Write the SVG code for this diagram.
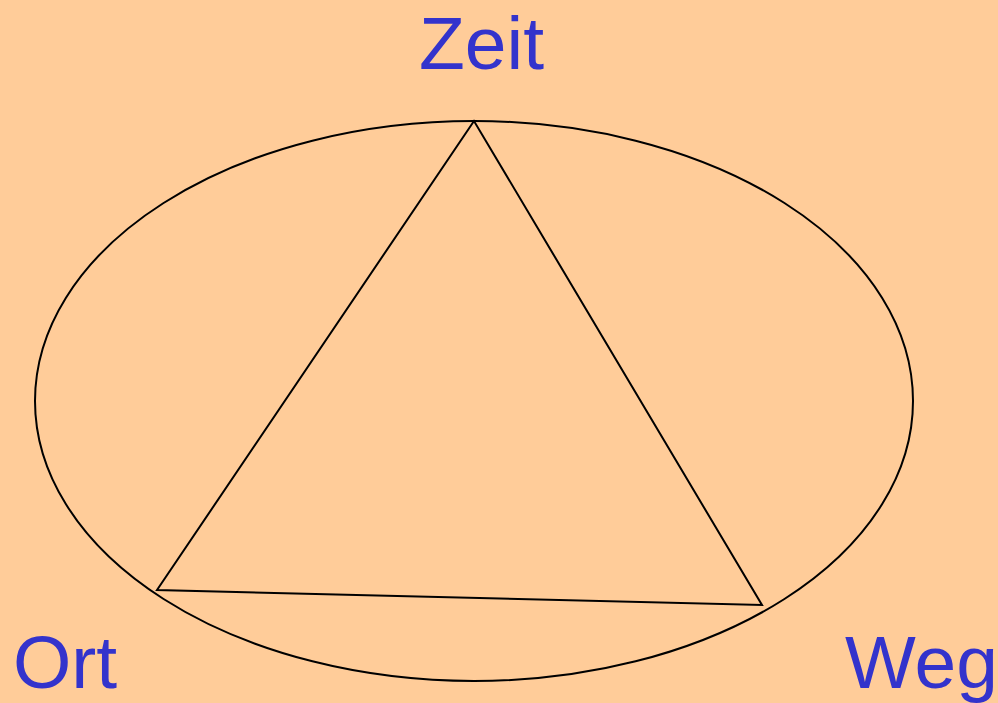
<svg xmlns="http://www.w3.org/2000/svg" width="998" height="703" viewBox="0 0 998 703">
<style>
.lbl{font-family:"Liberation Sans",Arial,sans-serif;font-size:75px;fill:#3333CC}
.ln{fill:none;stroke:#000;stroke-width:2}
</style>
<rect width="998" height="703" fill="#FFCC99"/>
<g id="connectors">
<ellipse class="ln" cx="474" cy="401" rx="439" ry="280"/>
<polygon class="ln" points="474,121 157,590 762,605"/>
</g>
<g id="zeit"><text class="lbl" x="419" y="69">Zeit</text></g>
<g id="ort"><text class="lbl" x="13" y="688">Ort</text></g>
<g id="weg"><text class="lbl" x="845" y="688">Weg</text></g>
</svg>
